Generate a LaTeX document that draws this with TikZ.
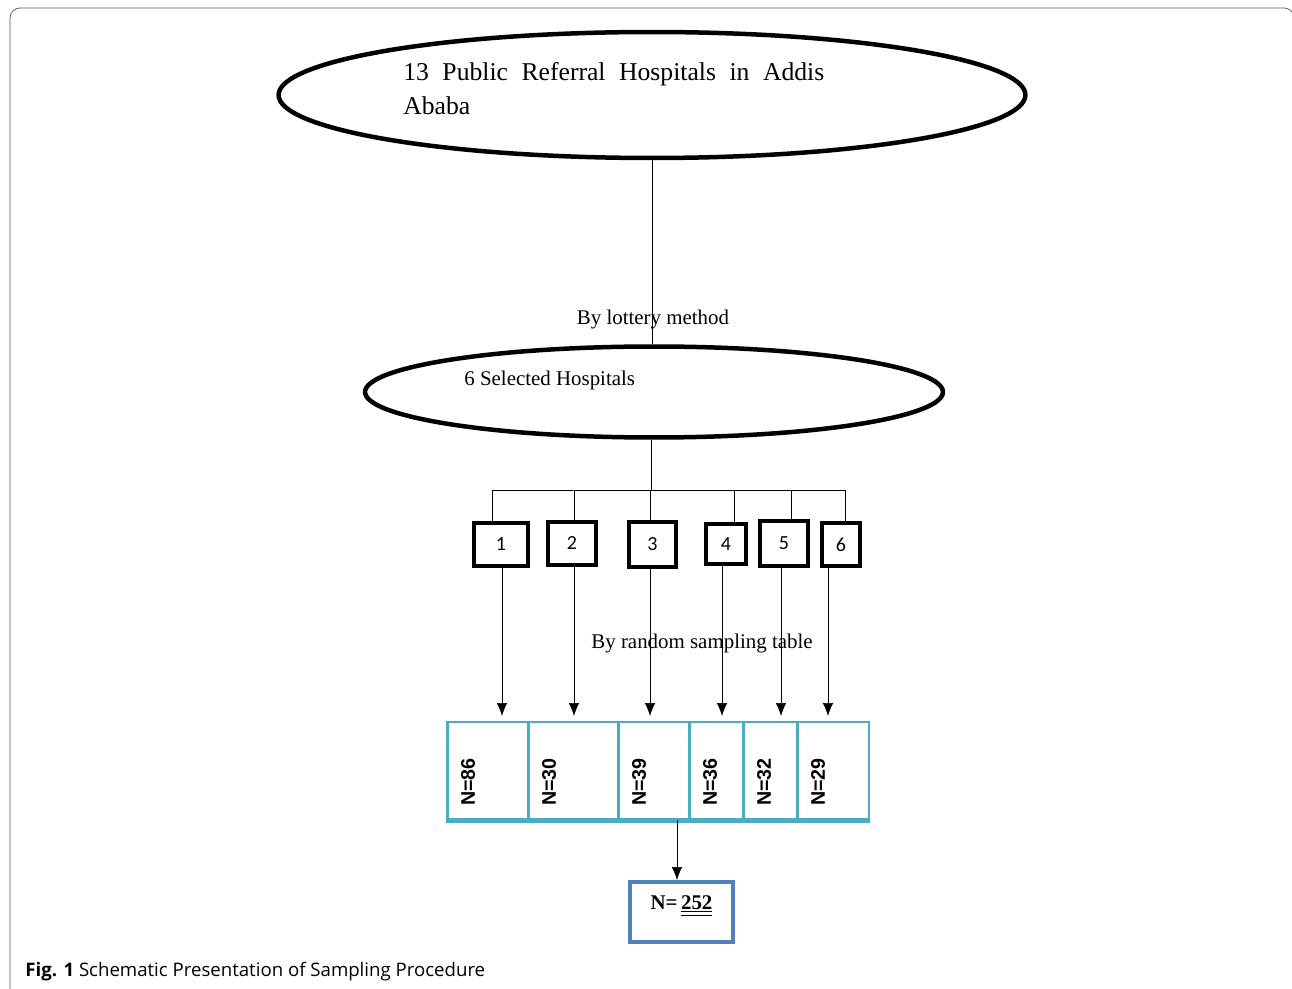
\documentclass[tikz,border=0pt]{standalone}
\usepackage{fontspec}
\setmainfont{Liberation Serif}
\newfontfamily\boxfont{Carlito}
\newfontfamily\cellfont{Liberation Sans}
\newfontfamily\capfont{Open Sans}
\usetikzlibrary{calc,shapes.geometric,arrows.meta}
\definecolor{cellblue}{RGB}{75,172,198}
\definecolor{totblue}{RGB}{79,129,189}

\begin{document}
\begin{tikzpicture}[x=0.02cm,y=-0.02cm]
       \tikzstyle{oval} = [ellipse, draw, line width=0.09cm];
       \tikzstyle{hosp} = [rectangle, draw, line width=0.09cm, font=\boxfont\fontsize{11.4}{13}\selectfont];
       \tikzstyle{cell} = [rectangle, draw=cellblue, line width=0.05cm, minimum height=1.94cm, anchor=north west];
       \tikzstyle{num} = [rotate=90, inner sep=0pt, font=\cellfont\bfseries\fontsize{11.2}{13}\selectfont];
       \tikzstyle{txt} = [inner sep=0pt, font=\fontsize{11.9}{14}\selectfont];
       \tikzstyle{arr} = [-{Latex[length=0.26cm,width=0.21cm]}];
       \useasboundingbox (0,0) rectangle (1292,989);
       \draw[gray!70!black, rounded corners=0.2cm] (10,989) -- (10,8) -- (1294,8) -- (1294,60);

       % populations
       \node[oval, minimum width=14.94cm, minimum height=2.52cm] (pop) at (652,95) {};
       \node[inner sep=0pt, anchor=west, text width=8.42cm, align=justify,
             font=\fontsize{14.6}{19.4}\selectfont] (poptxt) at (403,89)
             {\hyphenpenalty=10000\relax\tolerance=10000\relax 13 Public Referral Hospitals in Addis Ababa};
       \node[oval, minimum width=11.56cm, minimum height=1.82cm] (sel) at (654,392) {};
       \node[txt, anchor=west] (seltxt) at (464,380) {6 Selected Hospitals};
       \node[txt] (lottery) at (653,320) {By lottery method};
       \draw (pop.south) -- (pop.south |- sel.north);

       % hospitals
       \node[hosp, minimum width=1.08cm, minimum height=0.86cm] (b1) at (501,544.5) {1};
       \node[hosp, minimum width=0.96cm, minimum height=0.86cm] (b2) at (572,543.5) {2};
       \node[hosp, minimum width=0.94cm, minimum height=0.90cm] (b3) at (652.5,544.5) {3};
       \node[hosp, minimum width=0.80cm, minimum height=0.80cm] (b4) at (726,544) {4};
       \node[hosp, minimum width=0.96cm, minimum height=0.90cm] (b5) at (784,543.5) {5};
       \node[hosp, minimum width=0.76cm, minimum height=0.86cm] (b6) at (841,544.5) {6};
       \coordinate (bus) at (651,490);
       \draw (bus |- sel.south) -- (bus);
       \draw ($(b1.north)+(-9,0)$) |- (bus) -| ($(b6.north)+(4,0)$);
       \draw ($(b2.north)+(2,0)$) |- (bus);
       \draw ($(b3.north)+(-2.5,0)$) |- (bus);
       \draw ($(b4.north)+(8,0)$) |- (bus);
       \draw ($(b5.north)+(7,0)$) |- (bus);

       % samples
       \node[cell, minimum width=1.62cm] (c1) at (446,721) {};
       \node[cell, minimum width=1.80cm] (c2) at (527,721) {};
       \node[cell, minimum width=1.42cm] (c3) at (617,721) {};
       \node[cell, minimum width=1.08cm] (c4) at (688,721) {};
       \node[cell, minimum width=1.08cm] (c5) at (742,721) {};
       \node[cell, minimum width=1.44cm] (c6) at (796,721) {};
       \draw[cellblue, line width=0.09cm] (c1.south west) -- (c6.south east);
       \node[num] (n1) at (468,782) {N=86};
       \node[num] (n2) at (549,782) {N=30};
       \node[num] (n3) at (639,782) {N=39};
       \node[num] (n4) at (710,782) {N=36};
       \node[num] (n5) at (764,782) {N=32};
       \node[num] (n6) at (818,782) {N=29};
       \node[txt] (random) at (702,644) {By random sampling table};

       \coordinate (t1) at ($(b1.south)+(1,0)$);
       \coordinate (t2) at ($(b2.south)+(2,0)$);
       \coordinate (t3) at ($(b3.south)+(-2.5,0)$);
       \coordinate (t4) at ($(b4.south)+(-4,0)$);
       \coordinate (t5) at ($(b5.south)+(-3,0)$);
       \coordinate (t6) at ($(b6.south)+(-13,0)$);
       \draw[arr, shorten >=0.1cm] (t1) -- (t1 |- c1.north);
       \draw[arr, shorten >=0.1cm] (t2) -- (t2 |- c2.north);
       \draw[arr, shorten >=0.1cm] (t3) -- (t3 |- c3.north);
       \draw[arr, shorten >=0.1cm] (t4) -- (t4 |- c4.north);
       \draw[arr, shorten >=0.1cm] (t5) -- (t5 |- c5.north);
       \draw[arr, shorten >=0.1cm] (t6) -- (t6 |- c6.north);

       % total
       \node[rectangle, draw=totblue, line width=0.08cm, minimum width=2.06cm, minimum height=1.2cm,
             text height=0.3cm, text depth=0.42cm, font=\bfseries\fontsize{11.9}{14}\selectfont] (tot) at (681.5,912)
             {N=\,\underline{\underline{252}}};
       \coordinate (t7) at ($(tot.north)+(-4.5,0)$);
       \draw[arr] (t7 |- c3.south) -- (t7);

       \node[anchor=west, inner sep=0pt, font=\capfont\fontsize{10.6}{13}\selectfont] (caption) at (25,972)
             {\textbf{Fig. 1} Schematic Presentation of Sampling Procedure};
\end{tikzpicture}
\end{document}
